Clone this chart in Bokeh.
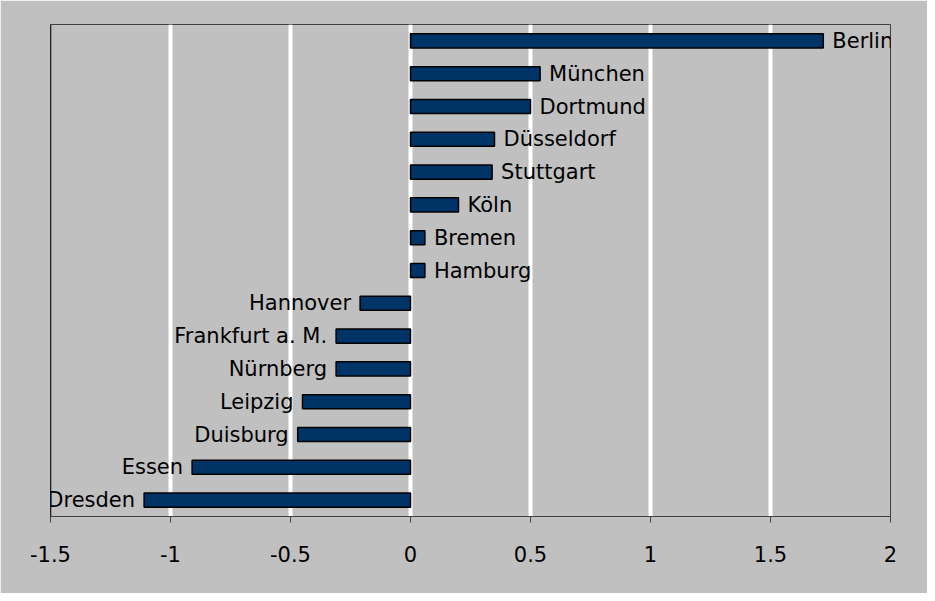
from bokeh.plotting import figure
from bokeh.models import ColumnDataSource, FixedTicker, Span, CustomJSTickFormatter
from bokeh.core.properties import value
from bokeh.embed import file_html
from bokeh.resources import INLINE

# Top-to-bottom order as shown
cities = ["Berlin", "München", "Dortmund", "Düsseldorf", "Stuttgart", "Köln",
          "Bremen", "Hamburg", "Hannover", "Frankfurt a. M.", "Nürnberg",
          "Leipzig", "Duisburg", "Essen", "Dresden"]
values = [1.72, 0.54, 0.50, 0.35, 0.34, 0.20, 0.06, 0.06, -0.21, -0.31,
          -0.31, -0.45, -0.47, -0.91, -1.11]
x_ticks = [-1.5, -1, -0.5, 0, 0.5, 1, 1.5, 2]

factors = cities[::-1]

align = ["left" if v >= 0 else "right" for v in values]
offs = [9 if v >= 0 else -9 for v in values]
src = ColumnDataSource(dict(city=cities, val=values, zero=[0] * len(values),
                            align=align, off=offs))

FONT = "DejaVu Sans"
BG = "#c0c0c0"

p = figure(width=927, height=593, y_range=factors,
           x_range=(x_ticks[0], x_ticks[-1]),
           output_backend="svg", toolbar_location=None,
           min_border_left=50, min_border_right=37, min_border_top=24,
           min_border_bottom=77)
p.background_fill_color = BG
p.border_fill_color = BG
p.outline_line_color = "#404040"
p.outline_line_width = 1

p.hbar(y="city", left="zero", right="val", height=0.43, source=src,
       fill_color="#003366", line_color="black", line_width=1.5)

p.text(x="val", y="city", text="city", source=src, text_align="align",
       x_offset="off", text_baseline="middle", text_font=value(FONT),
       text_font_size="21px", text_color="black")

p.xaxis.ticker = FixedTicker(ticks=x_ticks)
p.xaxis.formatter = CustomJSTickFormatter(code="return tick.toString();")
p.xaxis.axis_line_color = "#404040"
p.xaxis.major_tick_line_color = "#404040"
p.xaxis.major_tick_out = 6
p.xaxis.major_tick_in = 0
p.xaxis.minor_tick_line_color = None
p.xaxis.major_label_text_font = FONT
p.xaxis.major_label_text_font_size = "21px"
p.xaxis.major_label_text_color = "black"
p.xaxis.major_label_standoff = 23

p.yaxis.visible = False
p.add_layout(Span(location=x_ticks[0], dimension="height",
                  line_color="black", line_width=1.5))

p.xgrid.grid_line_color = "white"
p.xgrid.grid_line_width = 4
p.ygrid.grid_line_color = None

open("out.html", "w").write(file_html(p, INLINE))
